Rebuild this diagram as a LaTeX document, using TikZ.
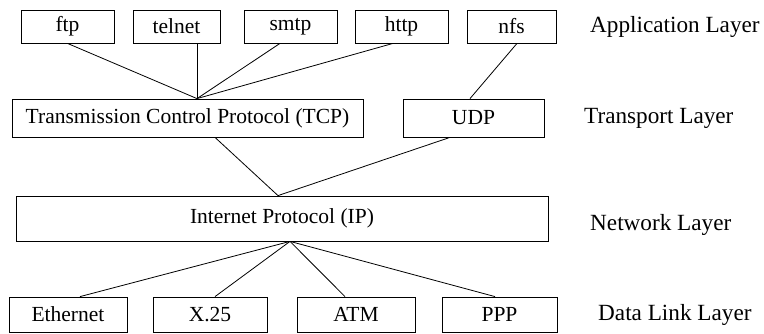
\documentclass[tikz,border=0pt]{standalone}
\usepackage{fontspec}
\setmainfont{Liberation Serif}
\begin{document}
\begin{tikzpicture}[x=1pt,y=-1pt,
  box/.style={draw, line width=0.8pt, inner sep=0pt, font=\fontsize{21.5}{24}\selectfont},
  layer/.style={anchor=base west, inner sep=0pt, font=\fontsize{23.2}{26}\selectfont},
  link/.style={line width=0.8pt}]
\useasboundingbox (0,0) rectangle (764,334);
% application layer
\node[box, minimum width=93pt, minimum height=33pt] (ftp) at (67.5,26.5) {ftp};
\node[box, minimum width=87pt, minimum height=33pt] (telnet) at (176.5,26.5) {telnet};
\node[box, minimum width=93pt, minimum height=33pt] (smtp) at (290.5,26.5) {smtp};
\node[box, minimum width=93pt, minimum height=33pt] (http) at (401.5,26.5) {http};
\node[box, minimum width=89pt, minimum height=33pt] (nfs) at (511.5,26.5) {nfs};
% transport layer
\node[box, minimum width=351pt, minimum height=38pt] (tcp) at (187.5,118) {Transmission Control Protocol (TCP)};
\node[box, minimum width=141pt, minimum height=38pt] (udp) at (473.5,118) {UDP};
% network layer
\node[box, minimum width=532pt, minimum height=45pt] (ip) at (282,218.5) {Internet Protocol (IP)\hspace{30pt}};
% data link layer
\node[box, minimum width=118pt, minimum height=35pt] (eth) at (68,314.5) {Ethernet};
\node[box, minimum width=114pt, minimum height=35pt] (x25) at (210,314.5) {X.25};
\node[box, minimum width=118pt, minimum height=35pt] (atm) at (356,314.5) {ATM};
\node[box, minimum width=115pt, minimum height=35pt] (ppp) at (499.5,314.5) {PPP};
% layer labels
\node[layer] (lapp) at (590,33) {Application Layer};
\node[layer] (ltra) at (584,124) {Transport Layer};
\node[layer] (lnet) at (590,231) {Network Layer};
\node[layer] (ldl) at (598,320) {Data Link Layer};
% connectors
\draw[link] (ftp.south) -- ([xshift=9.5pt]tcp.north);
\draw[link] ([xshift=20.5pt]telnet.south) -- ([xshift=9.5pt]tcp.north);
\draw[link] ([xshift=-10.5pt]smtp.south) -- ([xshift=9.5pt]tcp.north);
\draw[link] ([xshift=-8.5pt]http.south) -- ([xshift=9.5pt]tcp.north);
\draw[link] ([xshift=5.5pt]nfs.south) -- ([xshift=-3.5pt]udp.north);
\draw[link] ([xshift=27.5pt]tcp.south) -- ([xshift=-4pt]ip.north);
\draw[link] ([xshift=-23.5pt]udp.south) -- ([xshift=-4pt]ip.north);
\draw[link] ([xshift=8pt]ip.south) -- ([xshift=12pt]eth.north);
\draw[link] ([xshift=8pt]ip.south) -- ([xshift=5pt]x25.north);
\draw[link] ([xshift=8pt]ip.south) -- ([xshift=-11pt]atm.north);
\draw[link] ([xshift=8pt]ip.south) -- ([xshift=-4.5pt]ppp.north);
\end{tikzpicture}
\end{document}
